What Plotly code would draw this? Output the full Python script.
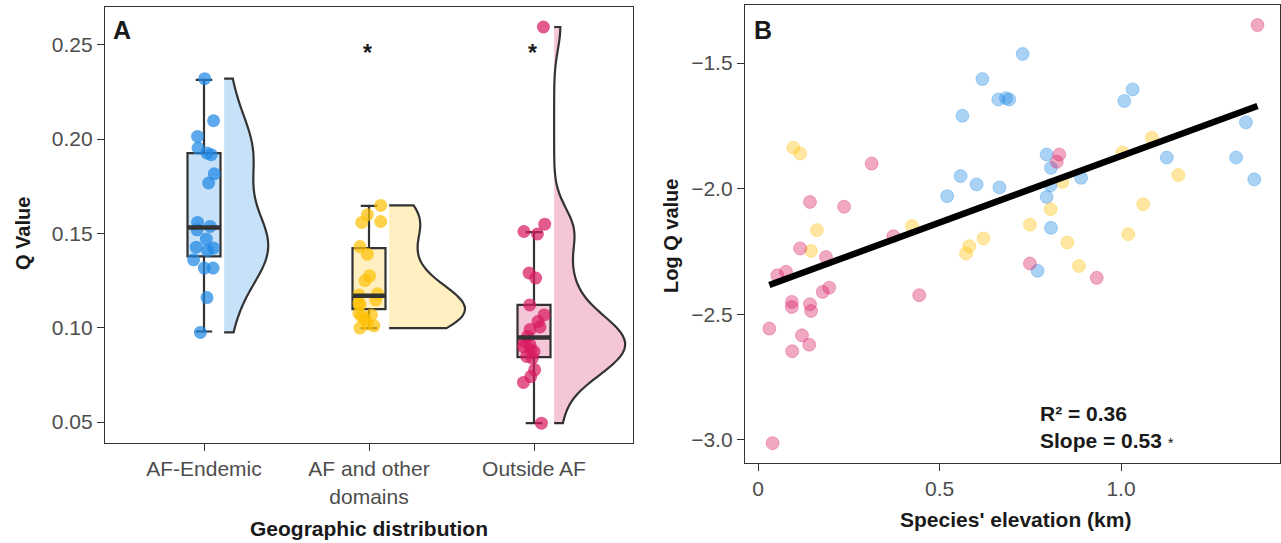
import numpy as np
import plotly.graph_objects as go

# ---------------- Panel A data ----------------
GROUPS = ["AF-Endemic", "AF and other<br>domains", "Outside AF"]
GROUP_POS = [1, 2, 3]

ENDEMIC_Q = [0.2320, 0.2097, 0.2014, 0.1952, 0.1926, 0.1917, 0.1816, 0.1767, 0.1558, 0.1537,
             0.1519, 0.1470, 0.1427, 0.1422, 0.1409, 0.1360, 0.1316, 0.1316, 0.1160, 0.0975]
ENDEMIC_JITTER = [0.004, 0.058, -0.039, -0.036, 0.018, 0.044, 0.062, 0.028, -0.039, 0.038,
                  -0.042, 0.014, -0.047, 0.058, 0.022, -0.063, 0.002, 0.055, 0.018, -0.022]

OTHER_Q = [0.1648, 0.1599, 0.1558, 0.1563, 0.1430, 0.1390, 0.1275, 0.1250, 0.1180, 0.1174,
           0.1148, 0.1130, 0.1077, 0.1068, 0.1045, 0.0998, 0.1121, 0.1060, 0.1020, 0.1010]
OTHER_JITTER = [0.071, -0.010, -0.044, 0.071, -0.055, -0.010, 0.004, -0.024, 0.051, -0.061,
                0.041, -0.061, -0.061, 0.015, -0.024, -0.055, -0.055, -0.045, -0.010, 0.030]

OUTSIDE_Q = [0.2594, 0.1510, 0.1549, 0.1497, 0.1290, 0.1263, 0.1121, 0.1068, 0.1033, 0.1004,
             0.0990, 0.0953, 0.0909, 0.0900, 0.0883, 0.0848, 0.0839, 0.0777, 0.0741, 0.0710, 0.0494,
             0.0928, 0.0874]
OUTSIDE_JITTER = [0.057, -0.061, 0.065, 0.021, -0.030, 0.010, -0.026, 0.061, 0.024, 0.036,
                  -0.024, -0.040, -0.024, -0.064, -0.020, -0.044, -0.010, 0.004, -0.020, -0.064, 0.045,
                  -0.060, 0.000]

BOX_LOWER = [0.0980, 0.0998, 0.0494]
BOX_Q1 = [0.1378, 0.1099, 0.0844]
BOX_MEDIAN = [0.1531, 0.1169, 0.0948]
BOX_Q3 = [0.1926, 0.1422, 0.1121]
BOX_UPPER = [0.2314, 0.1646, 0.1507]
SIGNIF = ["", "*", "*"]

# ---------------- Panel B data ----------------
ELEV_ENDEMIC = [0.618, 0.563, 0.662, 0.683, 0.692, 0.558, 0.602, 0.665, 0.521, 0.729, 1.032, 1.009,
                1.344, 0.795, 1.126, 1.317, 0.807, 0.890, 1.367, 0.806, 0.795, 0.807, 0.770]
LOGQ_ENDEMIC = [-1.564, -1.710, -1.645, -1.640, -1.645, -1.950, -1.983, -1.995, -2.030, -1.464, -1.605,
                -1.651, -1.736, -1.864, -1.876, -1.876, -1.917, -1.957, -1.963, -1.986, -2.033, -2.156, -2.327]

ELEV_OTHER = [0.097, 0.116, 0.162, 0.146, 0.424, 0.582, 0.573, 0.621, 1.085, 1.004, 0.839, 1.158,
              0.806, 1.061, 0.749, 0.852, 1.020, 0.884]
LOGQ_OTHER = [-1.837, -1.860, -2.165, -2.248, -2.149, -2.229, -2.258, -2.198, -1.797, -1.856, -1.973,
              -1.946, -2.082, -2.062, -2.143, -2.214, -2.181, -2.308]

ELEV_OUTSIDE = [0.313, 0.143, 0.237, 0.116, 0.187, 0.373, 0.053, 0.077, 0.178, 0.196, 0.093, 0.093,
                0.143, 0.146, 0.444, 0.031, 0.121, 0.141, 0.094, 0.040, 1.376, 0.830, 0.823, 0.749, 0.933]
LOGQ_OUTSIDE = [-1.900, -2.053, -2.072, -2.238, -2.272, -2.189, -2.345, -2.331, -2.411, -2.394, -2.451,
                -2.471, -2.460, -2.487, -2.424, -2.557, -2.584, -2.621, -2.647, -3.013, -1.349, -1.864,
                -1.893, -2.298, -2.355]

FIT_INTERCEPT = -2.40
FIT_SLOPE = 0.53
FIT_TEXT = ["<b>R² = 0.36</b>", "<b>Slope = 0.53</b> <span style='font-size:15px'>*</span>"]

# ---------------- styling ----------------
COLORS = [(30, 136, 229), (255, 193, 7), (216, 27, 96)]
VIOLIN_HALF = [0.267, 0.46, 0.43]   # max half-width (style)
BOX_W = 0.2
VIOLIN_OFFSET = 0.122
FONT = "Liberation Sans, Arial, Helvetica, sans-serif"
DARK = "#333333"
TXT = "#1a1a1a"


def rgba(c, a):
    return "rgba(%d,%d,%d,%.2f)" % (c[0], c[1], c[2], a)


def bw_nrd0(v):
    v = np.asarray(v, float)
    sd = v.std(ddof=1)
    iqr = np.subtract(*np.percentile(v, [75, 25]))
    lo = min(sd, iqr / 1.34)
    return 0.9 * lo * len(v) ** (-0.2)


fig = go.Figure()

group_q = [ENDEMIC_Q, OTHER_Q, OUTSIDE_Q]
group_j = [ENDEMIC_JITTER, OTHER_JITTER, OUTSIDE_JITTER]

for i in range(3):
    pos = GROUP_POS[i]
    col = COLORS[i]
    fig.add_trace(go.Violin(
        x0=pos + VIOLIN_OFFSET, y=group_q[i], side="positive", points=False,
        box_visible=False, meanline_visible=False, spanmode="hard",
        bandwidth=bw_nrd0(group_q[i]), width=2 * VIOLIN_HALF[i], scalemode="width",
        fillcolor=rgba(col, 0.25), line=dict(color=DARK, width=2.2),
        hoverinfo="skip", showlegend=False, xaxis="x", yaxis="y"))
    fig.add_trace(go.Box(
        x=[pos], q1=[BOX_Q1[i]], median=[BOX_MEDIAN[i]], q3=[BOX_Q3[i]],
        lowerfence=[BOX_LOWER[i]], upperfence=[BOX_UPPER[i]], width=BOX_W,
        fillcolor=rgba(col, 0.25), line=dict(color=DARK, width=2.2),
        boxpoints=False, hoverinfo="skip", showlegend=False, xaxis="x", yaxis="y"))

for i in range(3):
    pos = GROUP_POS[i]
    col = COLORS[i]
    fig.add_trace(go.Scatter(
        x=[pos + j for j in group_j[i]], y=group_q[i], mode="markers",
        marker=dict(size=13, color=rgba(col, 0.72), line=dict(width=0)),
        hoverinfo="skip", showlegend=False, xaxis="x", yaxis="y"))
    fig.add_trace(go.Scatter(
        x=[pos - BOX_W / 2, pos + BOX_W / 2], y=[BOX_MEDIAN[i], BOX_MEDIAN[i]],
        mode="lines", line=dict(color=DARK, width=4.5),
        hoverinfo="skip", showlegend=False, xaxis="x", yaxis="y"))

# Panel B
elev = [ELEV_ENDEMIC, ELEV_OTHER, ELEV_OUTSIDE]
logq = [LOGQ_ENDEMIC, LOGQ_OTHER, LOGQ_OUTSIDE]
for i in range(3):
    col = COLORS[i]
    fig.add_trace(go.Scatter(
        x=elev[i], y=logq[i], mode="markers",
        marker=dict(size=13, color=rgba(col, 0.38), line=dict(width=1, color=rgba(col, 0.3))),
        hoverinfo="skip", showlegend=False, xaxis="x2", yaxis="y2"))

all_x = ELEV_ENDEMIC + ELEV_OTHER + ELEV_OUTSIDE
fx = np.array([min(all_x), max(all_x)])
fig.add_trace(go.Scatter(
    x=fx, y=FIT_INTERCEPT + FIT_SLOPE * fx, mode="lines",
    line=dict(color="black", width=6.5), hoverinfo="skip", showlegend=False,
    xaxis="x2", yaxis="y2"))

W, H = 1281, 543
axis_common = dict(showline=True, mirror=True, linecolor=DARK, linewidth=1.4,
                   ticks="outside", ticklen=7, tickwidth=1.4, tickcolor=DARK,
                   showgrid=False, zeroline=False,
                   tickfont=dict(family=FONT, size=21, color="#4D4D4D"))


def ann(x, y, text, size, xref="paper", yref="paper", angle=0, xanchor="center"):
    return dict(x=x, y=y, xref=xref, yref=yref, text=text, textangle=angle, showarrow=False,
                xanchor=xanchor, yanchor="middle", font=dict(family=FONT, size=size, color=TXT))


annotations = []
for i in range(3):
    if SIGNIF[i]:
        annotations.append(ann(GROUP_POS[i] - 0.01, 0.2455, "<b>%s</b>" % SIGNIF[i], 23, xref="x", yref="y"))
annotations += [
    ann(122 / W, 1 - 30 / H, "<b>A</b>", 25),
    ann(763 / W, 1 - 30 / H, "<b>B</b>", 25),
    ann(23 / W, 1 - 234 / H, "<b>Q Value</b>", 20, angle=-90),
    ann(369 / W, 1 - 528 / H, "<b>Geographic distribution</b>", 21),
    ann(671 / W, 1 - 236 / H, "<b>Log Q value</b>", 20, angle=-90),
    ann(1015 / W, 1 - 519 / H, "<b>Species' elevation (km)</b>", 21),
    ann(0.771, -2.894, FIT_TEXT[0], 21, xref="x2", yref="y2", xanchor="left"),
    ann(0.771, -3.002, FIT_TEXT[1], 21, xref="x2", yref="y2", xanchor="left"),
]

fig.update_layout(
    width=W, height=H, margin=dict(l=0, r=0, t=0, b=0),
    paper_bgcolor="white", plot_bgcolor="white", showlegend=False,
    xaxis=dict(domain=[105 / W, 633 / W], range=[0.4, 3.6], tickvals=GROUP_POS, ticktext=GROUPS,
               anchor="y", **axis_common),
    yaxis=dict(domain=[1 - 443 / H, 1 - 7 / H], range=[0.0389, 0.270],
               tickvals=[0.05, 0.10, 0.15, 0.20, 0.25], tickformat=".2f", anchor="x", **axis_common),
    xaxis2=dict(domain=[745 / W, 1280 / W], range=[-0.036, 1.438], tickvals=[0, 0.5, 1.0],
                ticktext=["0", "0.5", "1.0"], anchor="y2", **axis_common),
    yaxis2=dict(domain=[1 - 463 / H, 1 - 5 / H], range=[-3.092, -1.269],
                tickvals=[-3.0, -2.5, -2.0, -1.5], tickformat=".1f", anchor="x2", **axis_common),
    annotations=annotations,
)

fig.write_html("out.html", config={"displayModeBar": False},
               post_script="document.body.style.margin='0';document.body.style.overflow='hidden';")
